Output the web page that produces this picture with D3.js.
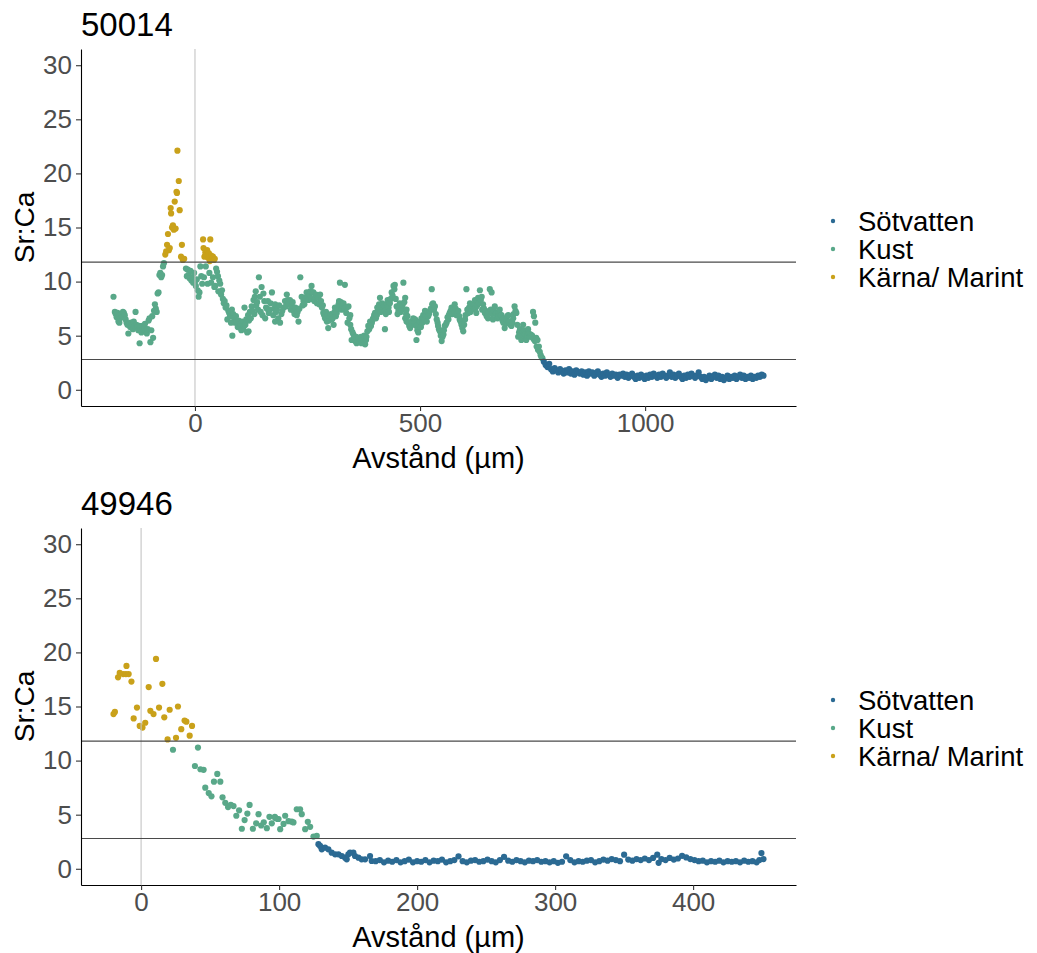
<!DOCTYPE html>
<html>
<head>
<meta charset="utf-8">
<script src="https://cdn.jsdelivr.net/npm/d3@7"></script>
<style>
  body { margin: 0; background: #fff; }
  svg { display: block; font-family: "Liberation Sans", Arial, sans-serif; }
</style>
</head>
<body>
<svg id="chart" width="1037" height="953"></svg>
<script>
// Habitat classes and their colours
const categories = ["Sötvatten", "Kust", "Kärna/ Marint"];
const categoryColors = ["#2b6a93", "#59a889", "#c9a11a"];
// Sr:Ca limits separating freshwater / coast / core-marine
const thresholds = [2.8, 11.8];
const yLimits = [0, 30];
const yTicks = [0, 5, 10, 15, 20, 25, 30];
const panelTitles = ["50014", "49946"];
const xTicks50014 = [0, 500, 1000];
const xTicks49946 = [0, 100, 200, 300, 400];
const xLabel = "Avstånd (µm)";
const yLabel = "Sr:Ca";

// Fish 50014: [distance µm, Sr:Ca]
const fish50014 = [
[-181,8.6],[-178,7.2],[-176,7.0],[-174,6.7],[-172,7.1],[-170,6.3],[-168,6.2],[-166,6.6],[-164,7.0],[-162,6.8],
[-160,7.2],[-158,7.1],[-156,6.9],[-154,6.5],[-152,6.2],[-150,6.0],[-148,5.2],[-146,6.1],[-144,5.8],[-142,6.2],
[-140,5.9],[-138,5.6],[-136,6.3],[-134,5.9],[-132,7.2],[-130,6.0],[-128,5.8],[-126,5.5],[-124,5.9],[-123,4.3],
[-121,5.5],[-119,5.3],[-117,5.9],[-115,5.6],[-113,5.8],[-111,6.1],[-109,5.4],[-107,5.2],[-105,5.6],[-103,6.4],
[-101,6.6],[-99,4.4],[-97,5.5],[-95,6.8],[-93,4.8],[-91,7.3],[-89,7.9],[-87,7.5],[-85,7.2],[-83,8.9],
[-81,9.0],[-79,10.6],[-77,10.8],[-75,10.4],[-73,10.6],[-71,11.4],[-69,11.7],
[-66,12.5],[-64,12.8],[-62,13.4],[-60,14.4],[-58,12.9],[-56,13.1],[-54,16.8],[-53,16.3],[-51,15.0],[-49,15.2],
[-47,14.8],[-45,17.4],[-43,14.9],[-41,18.3],[-40,18.2],[-39,22.1],[-36,19.3],[-34,16.6],[-31,12.3],[-29,13.4],
[-27,12.0],[-24,12.1],
[-20,11.2],[-18,10.5],[-16,11.1],[-14,10.6],[-12,10.3],[-10,11.0],[-8,10.1],[-6,10.4],[-4,9.9],[-2,10.8],
[0,10.0],[2,9.6],[4,10.2],[6,9.2],[8,8.6],[10,9.0],[12,11.4],[14,10.5],[16,9.8],
[18,13.9],[19,13.1],[21,12.3],[23,12.7],[25,12.4],[27,12.9],[29,12.2],[31,12.6],[33,11.9],[34,13.9],
[36,12.4],[38,12.0],[40,12.3],[42,12.0],[44,12.1],
[20,10.4],[24,11.4],[28,9.8],[32,10.8],[36,9.9],[40,10.4],[43,9.5],[45,9.6],[47,11.2],[49,10.9],
[51,10.5],[52,9.1],[54,10.1],[56,9.8],[58,8.8],[60,9.2],[62,8.4],[64,8.0],[66,8.2],[68,7.6],
[70,7.8],[72,6.5],[74,7.3],[76,7.1],[78,6.8],[80,6.2],[82,7.4],[83,5.0],[85,7.0],[87,6.6],
[89,6.2],[91,6.8],[93,6.3],[95,5.8],[97,6.4],[99,5.9],[101,6.1],[103,5.5],[105,6.3],[107,5.6],
[109,5.9],[110,7.6],[112,6.0],[114,6.5],[116,5.3],[118,6.9],[119,5.4],[120,6.4],[122,7.2],[124,6.6],
[126,7.7],[128,7.3],[130,8.3],[132,7.0],[133,8.6],[135,9.1],[136,7.8],[138,8.1],[140,7.4],[142,10.4],
[144,8.6],[146,7.2],[148,9.5],[150,6.9],[152,8.9],[154,8.2],[156,6.6],[158,7.6],[160,7.5],[162,8.2],
[164,7.1],[166,7.4],[168,8.0],
[171,9.0],[174,6.9],[176,7.5],[178,7.9],[178,6.3],[180,7.2],[182,7.4],[185,6.6],[187,7.8],[189,6.2],
[192,7.0],[194,7.3],[197,7.6],[200,8.2],[202,7.7],[204,8.8],[206,8.3],[208,8.0],[211,8.3],[213,7.4],
[215,7.7],[217,8.1],[219,7.3],[221,7.0],[223,7.6],[226,6.9],[228,7.2],[230,6.3],[232,7.5],[234,10.4],
[237,8.6],[239,7.8],[241,8.2],[243,7.9],[245,8.5],[248,9.0],[250,8.6],[252,8.3],[254,8.8],[256,9.1],
[258,8.4],[259,9.6],[261,9.0],[263,9.0],[265,8.2],[267,8.6],[269,8.8],[271,8.0],[274,8.5],[276,7.9],
[278,8.8],[280,8.2],[282,7.6],[284,7.8],[285,7.1],[287,6.9],[289,6.6],[291,7.2],[293,6.3],[295,6.9],
[296,5.7],[298,6.4],[300,6.8],[302,7.0],[304,6.5],[306,6.6],[308,6.0],[310,7.2],[311,7.6],[313,6.8],
[315,7.1],[317,7.5],[319,7.9],[320,8.2],[322,9.9],[324,8.1],[326,7.4],[328,7.8],[330,8.0],[332,7.5],
[333,9.7],[336,7.1],[337,7.6],[339,6.2],[341,7.7],[343,6.6],[345,6.9],[345,6.0],[347,5.6],[348,4.6],
[350,5.3],[352,5.1],[354,4.8],[356,4.5],[358,4.9],[359,4.3],[361,4.6],[363,4.8],[365,4.4],[367,4.5],
[369,4.9],[370,4.3],[372,4.7],[374,4.6],[376,5.0],[378,4.2],[380,4.6],[381,4.9],[383,5.4],[385,5.9],
[387,5.6],[389,6.3],[391,5.9],[393,6.2],[395,6.5],[396,6.6],[398,6.9],[400,7.1],[402,6.6],[404,6.9],
[405,7.6],[407,7.4],[409,7.9],[411,8.5],[413,7.2],[415,7.7],[416,8.0],[418,7.4],[420,7.8],[422,7.3],
[422,5.6],[424,7.0],[426,7.9],[428,8.3],[430,7.6],[431,7.2],[433,8.0],[435,8.4],[437,9.0],[439,8.7],
[441,9.6],[443,9.3],[444,9.7],[446,8.4],[448,7.7],[450,7.0],[452,7.3],[453,7.6],[455,8.0],[457,7.2],
[459,7.4],[461,7.8],[463,9.9],[465,8.1],[467,8.5],[467,6.6],[469,7.0],[470,7.4],[470,6.3],[472,6.8],
[474,6.2],[476,5.9],[478,5.7],[480,6.1],[481,6.3],[483,6.0],[485,6.6],[487,6.2],[489,6.5],[491,6.1],
[492,5.9],[492,4.6],[494,5.5],[496,5.3],[496,6.0],[498,6.2],[500,6.3],[502,5.8],[503,6.6],[505,6.2],
[507,6.9],[509,6.5],[511,7.3],[513,6.8],[515,6.3],[516,6.9],[518,6.8],[520,7.0],[522,7.3],[524,7.5],
[526,9.3],[527,7.9],[529,8.0],[531,7.4],[533,7.7],[535,7.0],[537,6.5],[539,6.2],[540,5.9],[542,5.6],
[544,5.4],[546,5.0],[548,4.5],[550,4.9],[552,5.1],[553,5.5],[555,5.9],[557,6.0],[559,6.2],[561,6.7],
[563,6.5],[564,6.9],[566,7.1],[568,7.3],[570,7.6],[572,7.0],[574,7.4],[576,7.2],[577,7.9],[579,7.5],
[581,6.9],[583,7.1],[585,7.3],[587,6.8],[588,6.5],[590,6.3],[592,6.0],[594,5.7],[596,5.4],[598,6.0],
[600,6.5],[601,6.9],[603,9.3],[605,7.4],[607,7.1],[609,7.6],[611,8.0],[612,7.2],[614,7.4],[616,7.7],
[618,7.9],[620,7.5],[622,8.3],[624,7.6],[625,7.1],[627,7.8],[629,8.5],[631,8.0],[633,9.2],[635,8.3],
[637,8.6],[638,7.4],[640,7.9],[642,7.5],[644,7.1],[646,7.3],[648,6.8],[649,7.0],[651,6.6],[653,7.2],
[655,9.3],[657,7.4],[659,9.0],[660,7.0],[662,6.5],[664,7.3],[666,7.7],[668,7.0],[670,7.1],[672,6.6],
[674,6.8],[675,7.2],[677,7.4],[679,6.9],[681,6.9],[683,6.4],[685,6.2],[686,6.6],[688,5.7],[690,6.1],
[692,6.5],[694,6.8],[696,6.9],[697,6.3],[699,6.3],[701,6.0],[703,5.9],[705,6.2],[707,6.6],[708,7.0],
[710,7.7],[712,7.3],[714,7.1],[716,6.0],[718,4.9],[720,5.3],[722,5.6],[723,5.0],[725,4.6],[727,5.4],
[729,6.0],[731,5.5],[733,5.1],[735,4.8],[736,4.6],[738,5.0],[740,5.6],[742,5.2],[744,4.9],[746,5.1],
[747,4.9],[749,5.0],[751,7.2],[752,4.7],[753,6.8],[755,4.5],[756,6.2],[758,4.8],[759,4.0],[761,4.6],
[762,3.7],[764,4.0],[766,3.5],[768,3.2],[770,3.0],[772,2.9],
[775,2.6],[779,2.3],[783,2.1],[787,2.4],[791,1.9],[795,1.7],[799,2.0],[803,1.8],[807,1.6],[811,1.9],
[815,1.7],[819,1.5],[823,1.8],[827,1.6],[831,1.9],[835,1.5],[839,1.7],[843,1.4],[847,1.8],[851,1.6],
[855,1.5],[859,1.7],[863,1.4],[867,1.6],[871,1.3],[875,1.7],[879,1.5],[883,1.6],[887,1.3],[891,1.5],
[895,1.7],[899,1.4],[903,1.2],[907,1.5],[911,1.3],[915,1.6],[919,1.4],[923,1.2],[927,1.5],[931,1.3],
[935,1.4],[939,1.1],[943,1.4],[947,1.3],[951,1.5],[955,1.2],[959,1.4],[963,1.1],[967,1.3],[971,1.5],
[975,1.2],[979,1.0],[983,1.3],[987,1.1],[991,1.4],[995,1.2],[999,1.0],[1003,1.3],[1007,1.1],[1011,1.4],
[1015,1.2],[1019,1.5],[1023,1.3],[1027,1.1],[1031,1.4],[1035,1.2],[1039,1.5],[1043,1.3],[1047,1.1],[1051,1.3],
[1055,1.6],[1059,1.2],[1063,1.4],[1067,1.1],[1071,1.3],[1075,1.5],[1079,1.2],[1083,1.0],[1087,1.3],[1091,1.1],
[1095,1.4],[1099,1.2],[1103,1.5],[1107,1.3],[1111,1.1],[1115,1.3],[1119,1.6],[1123,1.2],[1127,1.0],[1131,1.2],
[1135,0.9],[1139,1.1],[1143,1.3],[1147,1.0],[1151,1.2],[1155,1.4],[1159,1.1],[1163,1.3],[1167,1.0],[1171,1.2],
[1175,0.9],[1179,1.1],[1183,1.3],[1187,1.0],[1191,1.2],[1195,1.1],[1199,1.3],[1203,1.0],[1207,1.2],[1211,1.4],
[1215,1.1],[1219,1.3],[1223,1.0],[1227,1.2],[1231,1.1],[1235,1.3],[1239,1.0],[1243,1.2],[1247,1.1],[1251,1.3],
[1255,1.2],[1259,1.4],[1263,1.3]
];

// Fish 49946: [distance µm, Sr:Ca]
const fish49946 = [
[-20,14.3],[-19,14.5],[-16.7,17.7],[-15.5,18.1],[-13,18.0],[-11,18.0],[-10.6,18.75],[-9,18.0],[-7,17.3],[-5.4,13.9],
[-3,14.9],[-1,13.2],[1,13.05],[3,13.5],[5.5,16.8],[6.7,14.6],[9,14.3],[10.8,19.4],[13,14.9],[15.4,17.1],
[16.8,14.0],[19.2,11.96],[20.7,14.7],[23.1,11.0],[25.3,12.1],[26.7,15.0],[29.1,12.9],[31.5,13.7],[32.8,13.6],[35.2,12.3],
[36.9,13.2],[39,9.5],[41.2,11.2],[43,9.2],[45.3,9.15],[46.5,7.5],[49,7.0],[51,6.7],[52.8,8.05],[55.2,8.77],
[57.4,8.05],[59,6.6],[61,6.1],[63,5.7],[65,5.9],[67,5.8],[69,4.9],[71,5.4],[73,3.7],[75,4.5],
[77,5.1],[78.6,5.9],[81,3.7],[83.4,4.2],[85.1,5.05],[87,4.0],[88.9,4.3],[91.1,3.75],[93,4.8],[94.7,4.2],
[96.9,4.8],[97.2,4.7],[98.8,4.6],[99.6,4.6],[100.8,3.66],[103.2,4.15],[104.4,4.9],[106.8,4.4],[109.2,4.35],[110.4,4.28],
[112.8,5.5],[115.2,5.5],[116.4,5.05],[118.9,3.66],[120.8,4.34],[122.5,3.88],[124.9,2.98],[127.3,3.04],
[128.5,2.27],[129.7,2.11],[130.9,1.8],[133.3,1.95],[135.7,1.8],[138.1,1.49],[140.6,1.34],[143,1.34],[145.4,1.18],[147.8,1.03],
[149,0.87],[150.2,1.34],[151.4,1.49],[153.8,1.49],[155,1.18],[157.5,1.03],[159.8,0.87],[162.3,0.87],[165.9,1.18],[167.1,0.72],
[170,0.7],[173,0.8],[176,0.6],[179,0.75],[182,0.65],[185,0.8],[188,0.6],[191,0.7],[194,0.85],[197,0.6],
[200,0.7],[203,0.65],[206,0.8],[209,0.6],[212,0.75],[215,0.7],[218,0.85],[221,0.6],[224,0.7],[227,0.8],
[230,1.15],[233,0.7],[236,0.6],[239,0.75],[242,0.8],[245,0.65],[248,0.7],[251,0.85],[254,0.7],[257,0.6],
[260,0.8],[263,1.1],[266,0.75],[269,0.65],[272,0.8],[275,0.7],[278,0.6],[281,0.75],[284,0.7],[287,0.8],
[290,0.65],[293,0.7],[296,0.6],[299,0.7],[302,0.55],[305,0.65],[308,1.15],[311,0.8],[314,0.6],[317,0.7],
[320,0.65],[323,0.75],[326,0.8],[329,0.6],[332,0.7],[335,0.85],[338,0.75],[341,0.9],[344,0.8],[347,0.7],
[350,1.3],[353,0.85],[356,0.75],[359,0.9],[362,0.8],[365,0.95],[368,0.8],[371,1.0],[374,1.3],[375,0.55],
[377,0.9],[380,0.8],[383,1.0],[386,0.85],[389,0.95],[392,1.2],[395,1.05],[398,0.9],[401,0.8],[404,0.7],
[407,0.75],[410,0.6],[413,0.7],[416,0.65],[419,0.75],[422,0.6],[425,0.7],[428,0.65],[431,0.7],[434,0.6],
[437,0.75],[440,0.65],[443,0.7],[446,0.6],[448,0.8],[449.5,1.45],[451,0.9]
];

const panels = [
  { title: panelTitles[0], data: fish50014, xTicks: xTicks50014 },
  { title: panelTitles[1], data: fish49946, xTicks: xTicks49946 }
];

const svg = d3.select("#chart");
const plotLeft = 81, plotRight = 796, plotHeight = 357;
const panelTops = [49, 528];

function classOf(v) {
  return v > thresholds[1] ? 2 : v > thresholds[0] ? 1 : 0;
}

function drawPanel(p, top) {
  const g = svg.append("g");
  const ext = d3.extent(p.data, d => d[0]);
  const pad = (ext[1] - ext[0]) * 0.05;
  const x = d3.scaleLinear().domain([ext[0] - pad, ext[1] + pad]).range([plotLeft, plotRight]);
  const yPad = (yLimits[1] - yLimits[0]) * 0.05;
  const y = d3.scaleLinear().domain([yLimits[0] - yPad, yLimits[1] + yPad]).range([top + plotHeight, top]);

  // points
  g.append("g").selectAll("circle").data(p.data).join("circle")
    .attr("cx", d => x(d[0]))
    .attr("cy", d => y(d[1]))
    .attr("r", 3.1)
    .attr("fill", d => categoryColors[classOf(d[1])]);

  // reference lines: origin and habitat limits
  g.append("line")
    .attr("x1", x(0)).attr("x2", x(0))
    .attr("y1", top).attr("y2", top + plotHeight)
    .attr("stroke", "#c4c4c4").attr("stroke-width", 1.1);
  g.append("g").selectAll("line").data(thresholds).join("line")
    .attr("x1", plotLeft).attr("x2", plotRight)
    .attr("y1", d => y(d)).attr("y2", d => y(d))
    .attr("stroke", "#4a4a4a").attr("stroke-width", 1.2);

  // axes
  const yAxis = g.append("g").attr("transform", `translate(${plotLeft},0)`)
    .call(d3.axisLeft(y).tickValues(yTicks).tickSize(5).tickSizeOuter(0).tickPadding(4));
  const xAxis = g.append("g").attr("transform", `translate(0,${top + plotHeight})`)
    .call(d3.axisBottom(x).tickValues(p.xTicks).tickSize(5).tickSizeOuter(0).tickPadding(3).tickFormat(d3.format("d")));
  [yAxis, xAxis].forEach(a => {
    a.select(".domain").attr("stroke", "#000").attr("stroke-width", 1.1);
    a.selectAll(".tick line").attr("stroke", "#333").attr("stroke-width", 1.1);
    a.selectAll(".tick text").attr("fill", "#4d4d4d").attr("font-size", 26)
      .attr("font-family", "Liberation Sans, Arial, sans-serif");
  });

  // titles
  g.append("text").attr("x", plotLeft).attr("y", top - 13)
    .attr("font-size", 33).attr("fill", "#000").text(p.title);
  g.append("text").attr("x", (plotLeft + plotRight) / 2).attr("y", top + plotHeight + 62)
    .attr("text-anchor", "middle").attr("font-size", 29).attr("fill", "#000").text(xLabel);
  g.append("text")
    .attr("transform", `translate(34,${top + plotHeight / 2}) rotate(-90)`)
    .attr("text-anchor", "middle").attr("font-size", 28).attr("fill", "#000").text(yLabel);

  // legend
  const leg = g.append("g").selectAll("g").data(categories).join("g")
    .attr("transform", (d, i) => `translate(833,${top + 172 + i * 28})`);
  leg.append("circle").attr("r", 2.2).attr("fill", (d, i) => categoryColors[i]);
  leg.append("text").attr("x", 25).attr("y", 10).attr("font-size", 27.5).attr("fill", "#000").text(d => d);
}

panels.forEach((p, i) => drawPanel(p, panelTops[i]));
</script>
</body>
</html>
